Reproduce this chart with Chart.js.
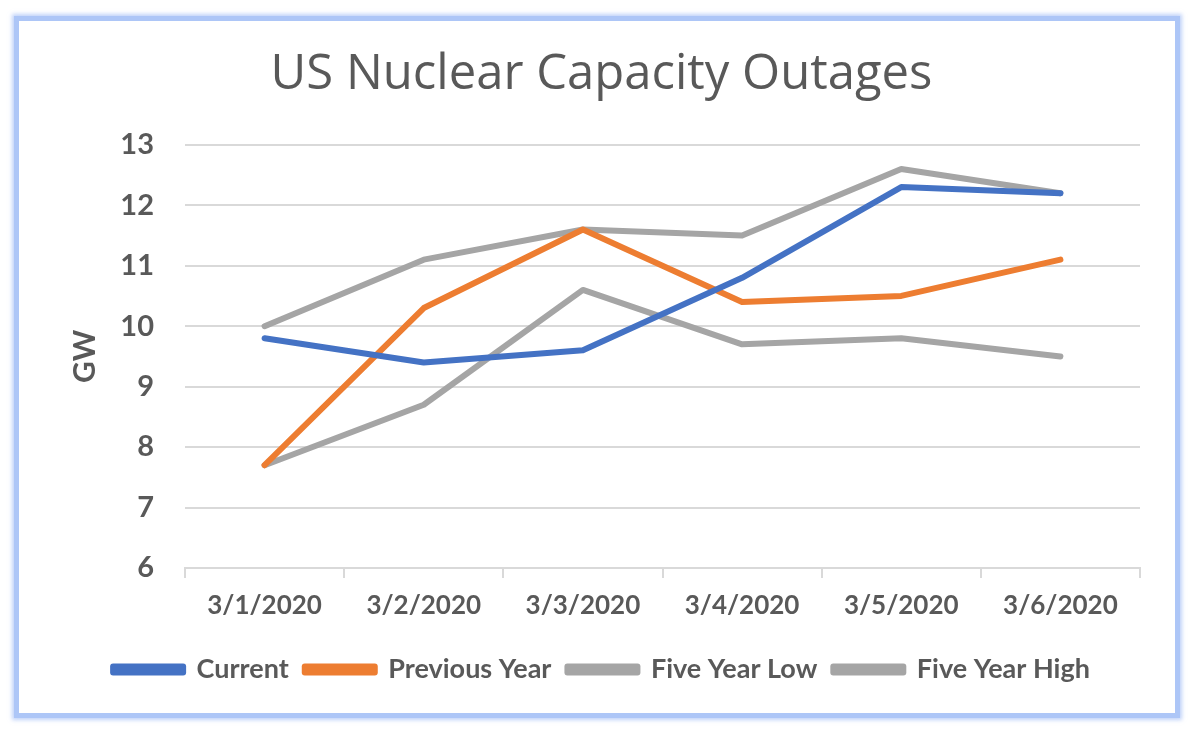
<!DOCTYPE html>
<html>
<head>
<meta charset="utf-8">
<script src="https://cdn.jsdelivr.net/npm/chart.js@4.4.1/dist/chart.umd.min.js"></script>
<style>
  html, body { margin: 0; padding: 0; background: #ffffff; width: 1196px; height: 734px; overflow: hidden; }
  #frame {
    position: absolute; left: 14px; top: 16px; width: 1166px; height: 702px;
    border: 5px solid #adc6f7; box-sizing: border-box;
    box-shadow: 0 0 4px 2px rgba(150,180,245,0.6);
  }
  #wrap { position: absolute; left: 22px; top: 22px; width: 1152px; height: 690px; }
</style>
</head>
<body>
<div id="frame"></div>
<div id="wrap"><canvas id="c" width="1152" height="690"></canvas></div>
<script>
const categories = ['3/1/2020', '3/2/2020', '3/3/2020', '3/4/2020', '3/5/2020', '3/6/2020'];
const current = [9.8, 9.4, 9.6, 10.8, 12.3, 12.2];
const previousYear = [7.7, 10.3, 11.6, 10.4, 10.5, 11.1];
const fiveYearLow = [7.7, 8.7, 10.6, 9.7, 9.8, 9.5];
const fiveYearHigh = [10.0, 11.1, 11.6, 11.5, 12.6, 12.2];
const yTicks = [6, 7, 8, 9, 10, 11, 12, 13];

const textColor = '#595959';
const fontFam = 'Lato, "Open Sans", sans-serif';

function ds(label, data, color) {
  return { label, data, borderColor: color, backgroundColor: color, borderWidth: 6,
           pointRadius: 0, pointHoverRadius: 0, tension: 0, fill: false, borderJoinStyle: 'round', borderCapStyle: 'round' };
}

new Chart(document.getElementById('c'), {
  type: 'line',
  data: {
    labels: categories,
    datasets: [
      ds('Current', current, '#4472c4'),
      ds('Previous Year', previousYear, '#ed7d31'),
      ds('Five Year Low', fiveYearLow, '#a5a5a5'),
      ds('Five Year High', fiveYearHigh, '#a5a5a5')
    ]
  },
  options: {
    responsive: false,
    animation: false,
    events: [],
    layout: { padding: { left: 41, right: 34, top: 10, bottom: 19 } },
    plugins: {
      title: {
        display: true, text: 'US Nuclear Capacity Outages', color: textColor,
        font: { family: '"Open Sans", sans-serif', size: 49, weight: 'normal' },
        padding: { top: 14, bottom: 40 }
      },
      legend: {
        position: 'bottom',
        labels: {
          color: textColor, boxWidth: 70, boxHeight: 6,
          font: { family: fontFam, size: 27, weight: 'bold' },
          padding: 16
        }
      },
      tooltip: { enabled: false }
    },
    scales: {
      x: {
        offset: true,
        afterFit: (s) => { s.height = 72; },
        grid: { offset: true, drawOnChartArea: false, drawTicks: true, tickLength: 10, color: '#d9d9d9', lineWidth: 2 },
        border: { display: true, color: '#d9d9d9', width: 2 },
        ticks: { color: textColor, font: { family: fontFam, size: 26, weight: 'bold' }, padding: 12, maxRotation: 0 }
      },
      y: {
        min: 6, max: 13,
        afterFit: (s) => { s.width = 122; },
        afterBuildTicks: (s) => { s.ticks = yTicks.map(v => ({ value: v })); },
        grid: { color: '#d9d9d9', lineWidth: 2, drawTicks: false },
        border: { display: false },
        ticks: { color: textColor, font: { family: fontFam, size: 29, weight: 'bold' }, padding: 31 },
        title: { display: true, text: 'GW', color: textColor, font: { family: fontFam, size: 30, weight: 'bold' }, padding: { top: 4, bottom: 16 } }
      }
    }
  }
});
</script>
</body>
</html>
